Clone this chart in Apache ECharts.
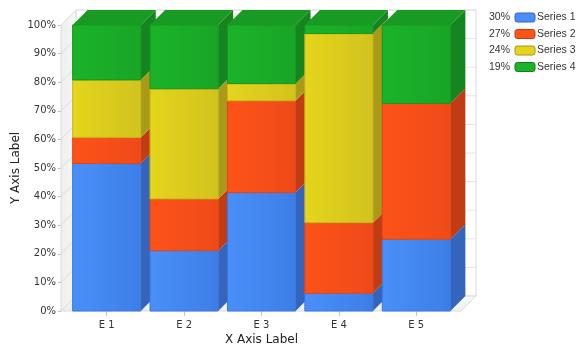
<!DOCTYPE html>
<html>
<head>
<meta charset="utf-8">
<script src="https://cdn.jsdelivr.net/npm/echarts@6/dist/echarts.min.js"></script>
<style>
  html, body { margin: 0; background: #fff; }
  #chart { width: 585px; height: 352px; }
</style>
</head>
<body>
<div id="chart"></div>
<script>
// values, percent of each column
const categories = ['E 1', 'E 2', 'E 3', 'E 4', 'E 5'];
const seriesNames = ['Series 1', 'Series 2', 'Series 3', 'Series 4'];
const series1 = [51.6, 21.1, 41.4, 6.2, 25.1];
const series2 = [9.1, 18.1, 32.1, 24.7, 47.5];
const series3 = [20.1, 38.5, 6.0, 66.1, 0];
const series4 = [19.2, 22.3, 20.5, 3.0, 27.4];
const legendShares = ['30%', '27%', '24%', '19%'];
const yTicks = [0, 10, 20, 30, 40, 50, 60, 70, 80, 90, 100];

const values = [series1, series2, series3, series4];
const palette = [
  { left: '#4a8ff9', right: '#3d7ee6', side: '#3464bb', top: '#4180ea', edge: '#3a77dc', legendBorder: '#2f64c4' },
  { left: '#fd5318', right: '#ee4a19', side: '#c23c13', top: '#e84a16', edge: '#e2461a', legendBorder: '#c53c12' },
  { left: '#e4d51c', right: '#d2c21e', side: '#a99a19', top: '#c8b91c', edge: '#c8b51a', legendBorder: '#a39418' },
  { left: '#1bb32a', right: '#19a526', side: '#15861f', top: '#189a23', edge: '#15961f', legendBorder: '#137f1c' }
];
const DEPTH = 15;
const BAR_RATIO = 0.88;
const PAD_L = 7, PAD_R = 6;

// stacked extents per series: [category, bottom, top, isTopSegment]
const stacked = values.map((vals, k) => vals.map((v, i) => {
  let lo = 0;
  for (let j = 0; j < k; j++) lo += values[j][i];
  let isTop = 1;
  for (let j = k + 1; j < values.length; j++) if (values[j][i] > 0) isTop = 0;
  return [i, lo, lo + v, isTop];
}));

function barBox(api, i, lo, hi) {
  const w = api.size([1, 0])[0] * BAR_RATIO;
  const p0 = api.coord([i, lo]);
  const p1 = api.coord([i, hi]);
  return { x: p0[0] - w / 2, y: p1[1], w: w, h: p0[1] - p1[1] };
}

function renderFront(k) {
  return function (params, api) {
    const i = api.value(0), lo = api.value(1), hi = api.value(2), isTop = api.value(3);
    if (hi - lo <= 0) return;
    const b = barBox(api, i, lo, hi);
    const c = palette[k];
    const children = [{
      type: 'rect',
      shape: { x: b.x, y: b.y, width: b.w, height: b.h },
      style: {
        fill: new echarts.graphic.LinearGradient(0, 0, 1, 0, [
          { offset: 0, color: c.left }, { offset: 1, color: c.right }
        ]),
        stroke: c.edge, lineWidth: 1
      }
    }];
    if (isTop) {
      children.push({
        type: 'polygon',
        shape: { points: [[b.x, b.y], [b.x + b.w, b.y], [b.x + b.w + DEPTH, b.y - DEPTH], [b.x + DEPTH, b.y - DEPTH]] },
        style: { fill: c.top }
      });
    }
    return { type: 'group', children: children };
  };
}

function renderSides(params, api) {
  const i = api.value(0);
  const children = [];
  stacked.forEach((rows, k) => {
    const r = rows[i];
    if (r[2] - r[1] <= 0) return;
    const b = barBox(api, i, r[1], r[2]);
    const xr = b.x + b.w, yb = b.y + b.h;
    children.push({
      type: 'polygon',
      shape: { points: [[xr, b.y], [xr, yb], [xr + DEPTH, yb - DEPTH], [xr + DEPTH, b.y - DEPTH]] },
      style: { fill: palette[k].side }
    });
  });
  return { type: 'group', children: children };
}

function renderFrame(params, api) {
  const cs = params.coordSys;
  const L = cs.x - PAD_L, R = cs.x + cs.width + PAD_R;
  const T = cs.y, B = cs.y + cs.height;
  const line = '#dcdcdc';
  const children = [
    { type: 'rect', shape: { x: L + DEPTH, y: T - DEPTH, width: R - L, height: B - T },
      style: { fill: '#ffffff', stroke: line, lineWidth: 1 } },
    { type: 'polygon', shape: { points: [[L, B], [L, T], [L + DEPTH, T - DEPTH], [L + DEPTH, B - DEPTH]] },
      style: { fill: new echarts.graphic.LinearGradient(0, 0, 1, 0, [
        { offset: 0, color: '#eeeeee' }, { offset: 1, color: '#f7f7f7' }]), stroke: line, lineWidth: 1 } },
    { type: 'polygon', shape: { points: [[L, B], [R, B], [R + DEPTH, B - DEPTH], [L + DEPTH, B - DEPTH]] },
      style: { fill: new echarts.graphic.LinearGradient(0, 1, 0, 0, [
        { offset: 0, color: '#eeeeee' }, { offset: 1, color: '#f8f8f8' }]), stroke: line, lineWidth: 1 } }
  ];
  yTicks.forEach(v => {
    const y = api.coord([0, v])[1];
    children.push({ type: 'line', shape: { x1: L, y1: y, x2: L + DEPTH, y2: y - DEPTH }, style: { stroke: line, lineWidth: 1 } });
    children.push({ type: 'line', shape: { x1: L + DEPTH, y1: y - DEPTH, x2: R + DEPTH, y2: y - DEPTH }, style: { stroke: '#e4e4e4', lineWidth: 1 } });
  });
  return { type: 'group', children: children, silent: true };
}

const chart = echarts.init(document.getElementById('chart'), null, { renderer: 'canvas' });

const frontSeries = seriesNames.map((name, k) => ({
  name: name,
  type: 'custom',
  z: 4,
  clip: false,
  renderItem: renderFront(k),
  itemStyle: { color: palette[k].left },
  encode: { x: 0, y: [1, 2] },
  data: stacked[k]
}));

const legendText = { fontFamily: 'Liberation Sans', fontSize: 10.5, color: '#333' };

const option = {
  animation: false,
  textStyle: { fontFamily: 'DejaVu Sans' },
  grid: { left: 68, right: 130, top: 25, bottom: 41, outerBoundsMode: 'none' },
  legend: [
    {
      orient: 'vertical', left: 484, top: 7, align: 'right',
      icon: 'roundRect', itemWidth: 20, itemHeight: 9, itemGap: 5.5,
      selectedMode: false,
      formatter: name => legendShares[seriesNames.indexOf(name)],
      textStyle: legendText,
      data: seriesNames.map((n, k) => ({
        name: n,
        itemStyle: { color: palette[k].left, borderColor: palette[k].legendBorder, borderWidth: 1 }
      }))
    },
    {
      orient: 'vertical', left: 527, top: 7, align: 'left',
      icon: 'none', itemWidth: 0, itemHeight: 9, itemGap: 5.5,
      selectedMode: false,
      textStyle: legendText,
      data: seriesNames
    }
  ],
  xAxis: {
    type: 'category',
    data: categories,
    name: 'X Axis Label',
    nameLocation: 'middle',
    nameGap: 23,
    nameMoveOverlap: false,
    nameTextStyle: { fontSize: 12, color: '#222' },
    axisLine: { show: false },
    axisTick: { show: true, alignWithLabel: true, length: 5, lineStyle: { color: '#c4c4c4' } },
    axisLabel: { fontSize: 10, color: '#333', margin: 9 },
    splitLine: { show: false }
  },
  yAxis: {
    type: 'value',
    min: 0, max: 100, interval: 10,
    offset: 7,
    name: 'Y Axis Label',
    nameLocation: 'middle',
    nameGap: 39,
    nameMoveOverlap: false,
    nameTextStyle: { fontSize: 12, color: '#222' },
    axisLine: { show: true, lineStyle: { color: '#d4d4d4' } },
    axisTick: { show: true, length: 3, lineStyle: { color: '#bcbcbc' } },
    axisLabel: { fontSize: 10, color: '#333', margin: 5, formatter: '{value}%' },
    splitLine: { show: false }
  },
  series: [
    { type: 'custom', z: 1, silent: true, clip: false, renderItem: renderFrame, encode: { x: 0, y: 1 }, data: [[0, 0]] },
    { type: 'custom', z: 3, silent: true, clip: false, renderItem: renderSides, encode: { x: 0, y: 1 }, data: categories.map((c, i) => [i, 0]) }
  ].concat(frontSeries)
};

chart.setOption(option);
window.addEventListener('resize', () => chart.resize());
</script>
</body>
</html>
